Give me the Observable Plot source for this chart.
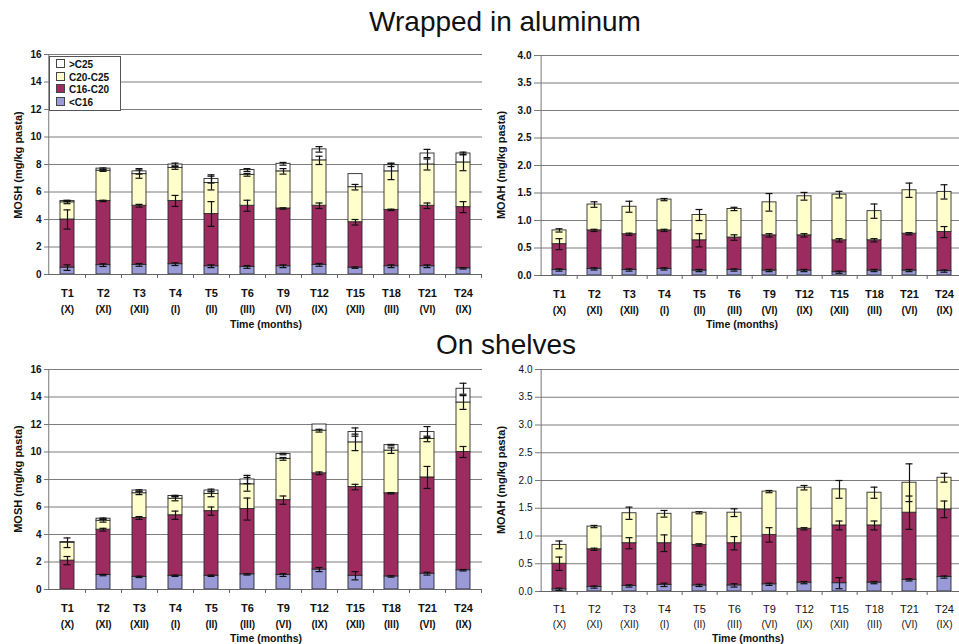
<!DOCTYPE html>
<html>
<head>
<meta charset="utf-8">
<script src="https://cdn.jsdelivr.net/npm/d3@7"></script>
<script src="https://cdn.jsdelivr.net/npm/@observablehq/plot@0.6"></script>
<style>
  html, body { margin: 0; padding: 0; background: #fff; }
  body { width: 959px; height: 644px; overflow: hidden; position: relative;
         font-family: "Liberation Sans", Arial, sans-serif; color: #111; }
  .panel { position: absolute; }
  .title { position: absolute; font-size: 28px; line-height: 1; transform: translateX(-50%); white-space: nowrap; color: #111; }
  .ylab { position: absolute; font-size: 11px; line-height: 1; font-weight: bold; white-space: nowrap;
          transform: translate(-50%, -50%) rotate(-90deg); }
  .xlab { position: absolute; font-size: 10.5px; line-height: 1; font-weight: bold; white-space: nowrap; transform: translate(-50%, -50%); }
  .legend { position: absolute; left: 49px; top: 56px; width: 70px; height: 53px; background: #fff;
            border: 1px solid #555; font-size: 10px; font-weight: bold; }
  .legend div { position: absolute; left: 6px; height: 12px; line-height: 12px; white-space: nowrap; }
  .legend span.sw { display: inline-block; width: 7px; height: 7px; border: 1px solid #444; margin-right: 4px; vertical-align: 0px; }
</style>
</head>
<body>
<script>
// ---- data ----
const cats = ["T1","T2","T3","T4","T5","T6","T9","T12","T15","T18","T21","T24"];
const months = ["X","XI","XII","I","II","III","VI","IX","XII","III","VI","IX"];
const fractions = ["<C16","C16-C20","C20-C25",">C25"];
const fractionColors = ["#9a9ad8","#9c2b5f","#ffffcc","#ffffff"];

// Wrapped in aluminum, MOSH: cumulative top of each fraction (mg/kg)
const wrapMoshC16   = [0.5, 0.68, 0.7, 0.75, 0.6, 0.55, 0.6, 0.7, 0.5, 0.6, 0.6, 0.45];
const wrapMoshC1620 = [4.0, 5.35, 5.0, 5.35, 4.4, 5.0, 4.8, 5.0, 3.8, 4.7, 5.0, 4.9];
const wrapMoshC2025 = [5.25, 7.55, 7.3, 7.75, 6.65, 7.25, 7.5, 8.3, 6.35, 7.5, 8.0, 8.15];
const wrapMoshGt25  = [5.35, 7.7, 7.5, 8.0, 6.95, 7.6, 8.05, 9.1, 7.3, 7.95, 8.8, 8.8];
const wrapMoshErrC16   = [0.2, 0.1, 0.1, 0.1, 0.1, 0.1, 0.1, 0.1, 0.05, 0.1, 0.1, 0.05];
const wrapMoshErrC1620 = [0.7, 0.05, 0.1, 0.4, 0.9, 0.4, 0.05, 0.2, 0.2, 0.05, 0.2, 0.4];
const wrapMoshErrC2025 = [0.1, 0.05, 0.3, 0.1, 0.5, 0.1, 0.2, 0.3, 0.2, 0.6, 0.4, 0.6];
const wrapMoshErrGt25  = [0.05, 0.05, 0.2, 0.1, 0.3, 0.1, 0.1, 0.2, 0, 0.1, 0.3, 0.1];

// Wrapped in aluminum, MOAH
const wrapMoahC16   = [0.1, 0.12, 0.1, 0.12, 0.09, 0.1, 0.09, 0.09, 0.06, 0.09, 0.09, 0.08];
const wrapMoahC1620 = [0.57, 0.82, 0.75, 0.82, 0.64, 0.69, 0.73, 0.73, 0.64, 0.64, 0.76, 0.79];
const wrapMoahC2025 = [0.82, 1.29, 1.25, 1.38, 1.1, 1.21, 1.33, 1.44, 1.47, 1.17, 1.55, 1.52];
const wrapMoahErrC16   = [0.02, 0.02, 0.02, 0.02, 0.02, 0.02, 0.02, 0.02, 0.02, 0.02, 0.02, 0.02];
const wrapMoahErrC1620 = [0.1, 0.02, 0.02, 0.02, 0.12, 0.05, 0.03, 0.03, 0.03, 0.03, 0.02, 0.1];
const wrapMoahErrC2025 = [0.03, 0.05, 0.1, 0.02, 0.1, 0.03, 0.16, 0.07, 0.06, 0.13, 0.13, 0.13];

// On shelves, MOSH
const shelfMoshC16   = [0, 1.05, 0.92, 1.0, 1.0, 1.1, 1.05, 1.45, 1.0, 0.95, 1.15, 1.4];
const shelfMoshC1620 = [2.1, 4.35, 5.2, 5.4, 5.7, 5.85, 6.5, 8.45, 7.45, 7.0, 8.15, 10.0];
const shelfMoshC2025 = [3.4, 5.0, 7.0, 6.6, 6.95, 7.65, 9.5, 11.55, 10.7, 10.1, 10.95, 13.6];
const shelfMoshGt25  = [3.45, 5.15, 7.2, 6.8, 7.2, 8.0, 9.85, 12.0, 11.45, 10.5, 11.45, 14.6];
const shelfMoshErrC16   = [0, 0.05, 0.05, 0.05, 0.05, 0.05, 0.1, 0.15, 0.3, 0.05, 0.1, 0.05];
const shelfMoshErrC1620 = [0.3, 0.1, 0.1, 0.3, 0.3, 0.8, 0.3, 0.1, 0.2, 0.05, 0.8, 0.4];
const shelfMoshErrC2025 = [0.35, 0.1, 0.1, 0.15, 0.2, 0.5, 0.1, 0.1, 0.6, 0.2, 0.2, 0.5];
const shelfMoshErrGt25  = [0, 0.05, 0.05, 0.05, 0.1, 0.3, 0.05, 0, 0.3, 0.05, 0.4, 0.4];

// On shelves, MOAH
const shelfMoahC16   = [0.04, 0.08, 0.1, 0.12, 0.11, 0.11, 0.13, 0.16, 0.15, 0.16, 0.21, 0.26];
const shelfMoahC1620 = [0.5, 0.76, 0.87, 0.87, 0.84, 0.87, 1.02, 1.13, 1.19, 1.19, 1.42, 1.48];
const shelfMoahC2025 = [0.84, 1.17, 1.41, 1.4, 1.42, 1.42, 1.8, 1.87, 1.84, 1.78, 1.96, 2.05];
const shelfMoahErrC16   = [0.02, 0.02, 0.02, 0.03, 0.02, 0.03, 0.02, 0.02, 0.1, 0.02, 0.02, 0.02];
const shelfMoahErrC1620 = [0.12, 0.02, 0.1, 0.15, 0.02, 0.12, 0.13, 0.02, 0.08, 0.08, 0.3, 0.15];
const shelfMoahErrC2025 = [0.07, 0.02, 0.11, 0.06, 0.02, 0.07, 0.02, 0.04, 0.16, 0.1, 0.34, 0.08];

const moshTicks = [0, 2, 4, 6, 8, 10, 12, 14, 16];
const moahTicks = [0, 0.5, 1.0, 1.5, 2.0, 2.5, 3.0, 3.5, 4.0];

// ---- drawing ----
function panel(cfg) {
  const {tops, errs, yMax, ticks, fmt, left, top, width, height, ml, mr, mt, mb, weight, padT, padM} = cfg;
  const segs = [], ebars = [];
  tops.forEach((arr, k) => arr.forEach((v, i) => {
    const lo = k === 0 ? 0 : tops[k - 1][i];
    segs.push({t: cats[i], f: fractions[k], y1: lo, y2: v});
    const e = errs[k][i];
    if (e > 0) ebars.push({t: cats[i], lo: v - e, hi: v + e});
  }));
  const pi = 0.6, po = 0.32;
  const step = (width - ml - mr) / (cats.length - pi + 2 * po);
  const leftOffset = -(po * step + (1 - pi) * step / 2);
  const tickLen = yMax * 4 / (height - mt - mb);
  const chart = Plot.plot({
    width, height, marginLeft: ml, marginRight: mr, marginTop: mt, marginBottom: mb,
    style: {fontFamily: "'Liberation Sans', Arial, sans-serif", fontSize: "10px", fontWeight: weight,
            color: "#111", background: "transparent", overflow: "visible"},
    x: {domain: cats, paddingInner: pi, paddingOuter: po, axis: null, label: null},
    y: {domain: [0, yMax], axis: null, label: null},
    color: {domain: fractions, range: fractionColors},
    marks: [
      Plot.gridY(ticks, {stroke: "#7d7d7d", strokeOpacity: 1, strokeWidth: 1}),
      Plot.ruleX([cats[0]], {x: d => d, dx: leftOffset, y1: 0, y2: yMax, stroke: "#777"}),
      Plot.axisY(ticks, {tickSize: 4, tickPadding: 3, tickFormat: fmt, stroke: "#777", label: null}),
      Plot.barY(segs, {x: "t", y1: "y1", y2: "y2", fill: "f", stroke: "#2a2a2a", strokeWidth: 0.9}),
      Plot.ruleY([0], {stroke: "#666"}),
      Plot.ruleX(cats, {x: d => d, dx: step / 2, y1: 0, y2: -tickLen, stroke: "#666"}),
      Plot.axisX({tickSize: 0, tickPadding: padT, fontSize: 11, label: null}),
      Plot.axisX({tickSize: 0, tickPadding: padM, fontSize: 10, label: null,
                  tickFormat: d => "(" + months[cats.indexOf(d)] + ")"}),
      Plot.ruleX(ebars, {x: "t", y1: "lo", y2: "hi", stroke: "#111", strokeWidth: 1.2}),
      Plot.tickY(ebars, {x: "t", y: "lo", insetLeft: 3.5, insetRight: 3.5, stroke: "#111", strokeWidth: 1.2}),
      Plot.tickY(ebars, {x: "t", y: "hi", insetLeft: 3.5, insetRight: 3.5, stroke: "#111", strokeWidth: 1.2})
    ]
  });
  const div = document.createElement("div");
  div.className = "panel";
  div.style.left = left + "px";
  div.style.top = top + "px";
  div.style.width = width + "px";
  div.appendChild(chart);
  document.body.appendChild(div);
}

function text(cls, txt, x, y) {
  const d = document.createElement("div");
  d.className = cls;
  d.textContent = txt;
  d.style.left = x + "px";
  d.style.top = y + "px";
  document.body.appendChild(d);
  return d;
}

panel({tops: [wrapMoshC16, wrapMoshC1620, wrapMoshC2025, wrapMoshGt25],
       errs: [wrapMoshErrC16, wrapMoshErrC1620, wrapMoshErrC2025, wrapMoshErrGt25],
       yMax: 16, ticks: moshTicks, fmt: d => d, left: 0, top: 40, width: 485, height: 290,
       ml: 48, mr: 3, mt: 14, mb: 56, weight: "bold", padT: 15, padM: 31});
panel({tops: [wrapMoahC16, wrapMoahC1620, wrapMoahC2025],
       errs: [wrapMoahErrC16, wrapMoahErrC1620, wrapMoahErrC2025],
       yMax: 4, ticks: moahTicks, fmt: d3.format(".1f"), left: 480, top: 40, width: 484, height: 290,
       ml: 58, mr: 0, mt: 15, mb: 55, weight: "bold", padT: 15, padM: 31});
panel({tops: [shelfMoshC16, shelfMoshC1620, shelfMoshC2025, shelfMoshGt25],
       errs: [shelfMoshErrC16, shelfMoshErrC1620, shelfMoshErrC2025, shelfMoshErrGt25],
       yMax: 16, ticks: moshTicks, fmt: d => d, left: 0, top: 356, width: 485, height: 290,
       ml: 48, mr: 3, mt: 13, mb: 57, weight: "bold", padT: 15, padM: 31});
panel({tops: [shelfMoahC16, shelfMoahC1620, shelfMoahC2025],
       errs: [shelfMoahErrC16, shelfMoahErrC1620, shelfMoahErrC2025],
       yMax: 4, ticks: moahTicks, fmt: d3.format(".1f"), left: 480, top: 356, width: 484, height: 290,
       ml: 59, mr: 0, mt: 13, mb: 55, weight: "normal", padT: 14, padM: 29});

text("title", "Wrapped in aluminum", 505, 8);
text("title", "On shelves", 506, 331);
text("ylab", "MOSH (mg/kg pasta)", 18, 165);
text("ylab", "MOAH (mg/kg pasta)", 501, 165);
text("ylab", "MOSH (mg/kg pasta)", 18, 479);
text("ylab", "MOAH (mg/kg pasta)", 501, 480);
text("xlab", "Time (months)", 266, 324);
text("xlab", "Time (months)", 742, 324);
text("xlab", "Time (months)", 266, 638);
text("xlab", "Time (months)", 748, 638);

// legend (top-left panel)
const legend = document.createElement("div");
legend.className = "legend";
const legendItems = [">C25", "C20-C25", "C16-C20", "<C16"];
legendItems.forEach((name, i) => {
  const row = document.createElement("div");
  row.style.top = (2 + i * 12.5) + "px";
  const sw = document.createElement("span");
  sw.className = "sw";
  sw.style.background = fractionColors[fractions.indexOf(name)];
  row.appendChild(sw);
  row.appendChild(document.createTextNode(name));
  legend.appendChild(row);
});
document.body.appendChild(legend);
</script>
</body>
</html>
